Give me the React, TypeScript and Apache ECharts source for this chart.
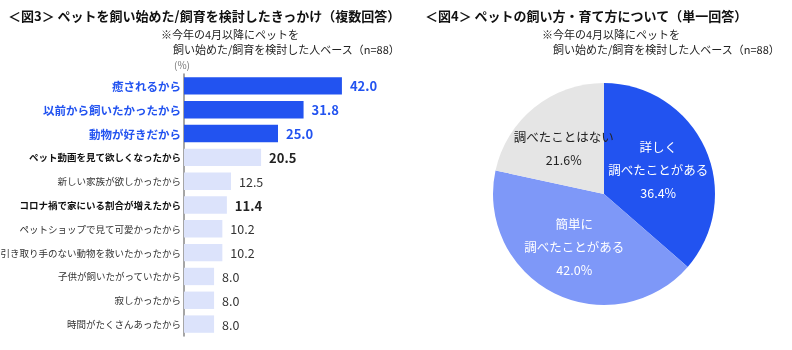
import React, { useEffect, useRef } from "react";
import * as echarts from "echarts";

const barCategories = [
  "癒されるから",
  "以前から飼いたかったから",
  "動物が好きだから",
  "ペット動画を見て欲しくなったから",
  "新しい家族が欲しかったから",
  "コロナ禍で家にいる割合が増えたから",
  "ペットショップで見て可愛かったから",
  "引き取り手のない動物を救いたかったから",
  "子供が飼いたがっていたから",
  "寂しかったから",
  "時間がたくさんあったから",
];
const barValues = [42.0, 31.8, 25.0, 20.5, 12.5, 11.4, 10.2, 10.2, 8.0, 8.0, 8.0];

const pieNames = ["詳しく\n調べたことがある", "簡単に\n調べたことがある", "調べたことはない"];
const pieValues = [36.4, 42.0, 21.6];

const title3 = "＜図3＞ ペットを飼い始めた/飼育を検討したきっかけ（複数回答）";
const title4 = "＜図4＞ ペットの飼い方・育て方について（単一回答）";
const noteLine1 = "※今年の4月以降にペットを";
const noteLine2 = "飼い始めた/飼育を検討した人ベース（n=88）";
const unitLabel = "(%)";

const FONT = "'Noto Sans CJK JP', 'Noto Sans', sans-serif";
const BLUE = "#2253F0";
const LIGHT = "#DCE3FB";
const HIGHLIGHT_COUNT = 3;
const BOLD_ROWS = [3, 5];
const PIE_COLORS = [BLUE, "#7E98F8", "#E5E5E5"];
const PIE_LABEL_PADDING = [
  [6, 0, 0, 2],
  [0, 7, 22, 0],
  [0, 7, 16, 0],
];

export default function App() {
  const ref = useRef<HTMLDivElement>(null);
  useEffect(() => {
    if (!ref.current) return;
    const chart = echarts.init(ref.current, null, { renderer: "svg" });
    const styleKey = (i: number) =>
      i < HIGHLIGHT_COUNT ? "hi" : BOLD_ROWS.includes(i) ? "b" : "n";
    chart.setOption({
      animation: false,
      textStyle: { fontFamily: FONT },
      graphic: [
        { type: "text", left: 8, top: 9, style: { text: title3, font: `bold 13px ${FONT}`, fill: "#111" } },
        { type: "text", left: 161, top: 28, style: { text: noteLine1, font: `11px ${FONT}`, fill: "#222" } },
        { type: "text", left: 173, top: 43, style: { text: noteLine2, font: `11px ${FONT}`, fill: "#222" } },
        { type: "text", left: 174, top: 59, style: { text: unitLabel, font: `10px ${FONT}`, fill: "#777" } },
        { type: "text", left: 425, top: 9, style: { text: title4, font: `bold 13px ${FONT}`, fill: "#111" } },
        { type: "text", left: 542, top: 28, style: { text: noteLine1, font: `11px ${FONT}`, fill: "#222" } },
        { type: "text", left: 553, top: 43, style: { text: noteLine2, font: `11px ${FONT}`, fill: "#222" } },
      ],
      grid: {
        left: 184,
        top: 74,
        width: 188,
        height: 262,
        containLabel: false,
        outerBoundsMode: "none",
      },
      xAxis: { type: "value", min: 0, max: 50, show: false },
      yAxis: {
        type: "category",
        inverse: true,
        data: barCategories,
        axisLine: { show: true, lineStyle: { color: "#888", width: 1.5 } },
        axisTick: { show: false },
        axisLabel: {
          margin: 3,
          formatter: (v: string, i: number) => `{${styleKey(i)}|${v}}`,
          rich: {
            hi: { fontSize: 11.5, fontWeight: "bold", color: BLUE, fontFamily: FONT },
            b: { fontSize: 9.5, fontWeight: "bold", color: "#111", fontFamily: FONT },
            n: { fontSize: 9.5, color: "#333", fontFamily: FONT },
          },
        },
      },
      series: [
        {
          type: "bar",
          data: barValues.map((v, i) => ({
            value: v,
            itemStyle: { color: i < HIGHLIGHT_COUNT ? BLUE : LIGHT },
          })),
          barCategoryGap: "27%",
          label: {
            show: true,
            position: "right",
            distance: 8,
            formatter: (p: any) => `{${styleKey(p.dataIndex)}|${Number(p.value).toFixed(1)}}`,
            rich: {
              hi: { fontSize: 13, fontWeight: "bold", color: BLUE, fontFamily: FONT },
              b: { fontSize: 13, fontWeight: "bold", color: "#222", fontFamily: FONT },
              n: { fontSize: 12.5, color: "#333", fontFamily: FONT },
            },
          },
        },
        {
          type: "pie",
          center: [604, 194],
          radius: 111,
          startAngle: 90,
          clockwise: true,
          avoidLabelOverlap: false,
          data: pieNames.map((n, i) => ({
            name: n,
            value: pieValues[i],
            itemStyle: { color: PIE_COLORS[i] },
            label: { color: i === 2 ? "#222" : "#fff", padding: PIE_LABEL_PADDING[i] },
          })),
          label: {
            show: true,
            position: "inside",
            formatter: (p: any) => `${p.name}\n${Number(p.value).toFixed(1)}%`,
            fontSize: 12.5,
            lineHeight: 23,
            fontFamily: FONT,
            align: "center",
          },
          labelLayout: { hideOverlap: false },
          labelLine: { show: false },
        },
      ],
    });
    return () => chart.dispose();
  }, []);
  return (
    <div
      ref={ref}
      style={{ position: "fixed", left: 0, top: 0, width: 792, height: 350 }}
    />
  );
}
